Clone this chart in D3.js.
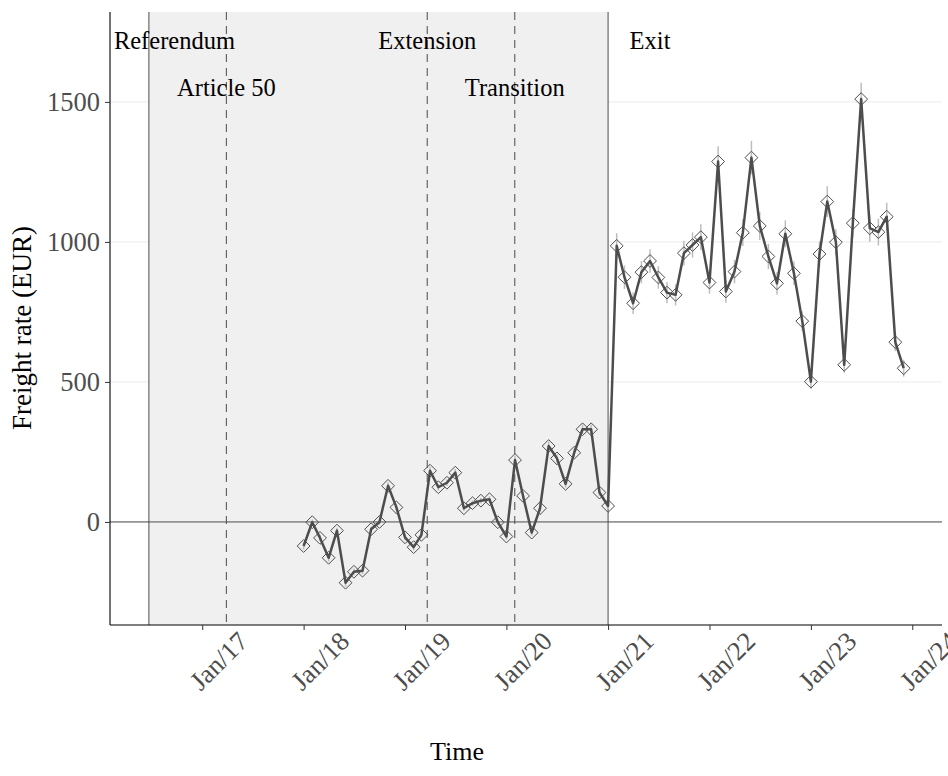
<!DOCTYPE html>
<html>
<head>
<meta charset="utf-8">
<script src="https://cdn.jsdelivr.net/npm/d3@7"></script>
<style>
  html, body { margin: 0; padding: 0; background: #ffffff; }
  svg { display: block; }
</style>
</head>
<body>
<svg id="chart" width="948" height="776"></svg>
<script>
// Monthly freight rates, Jan 2018 – Dec 2023 (EUR)
const startMonth = [2018, 0];
const rates = [
  -86, -1, -57, -128, -31, -217, -178, -174, -26, 0, 129, 52,
  -55, -90, -46, 183, 124, 140, 176, 49, 67, 76, 81, -1,
  -52, 221, 93, -38, 49, 271, 227, 136, 247, 331, 331, 105,
  57, 986, 874, 781, 892, 932, 873, 819, 811, 960, 989, 1017,
  855, 1287, 823, 894, 1033, 1301, 1057, 948, 852, 1029, 888, 717,
  501, 957, 1144, 999, 561, 1067, 1510, 1049, 1035, 1090, 642, 549
];
// Half-width of the uncertainty band around each monthly rate
const rateErrors = [
  12, 10, 11, 13, 10, 14, 12, 12, 10, 10, 13, 11,
  10, 12, 11, 14, 12, 12, 13, 10, 10, 10, 11, 10,
  11, 15, 12, 11, 11, 16, 15, 13, 15, 17, 17, 12,
  11, 45, 42, 38, 40, 42, 40, 38, 38, 44, 45, 46,
  40, 55, 40, 42, 48, 60, 50, 45, 40, 48, 42, 35,
  25, 45, 55, 46, 28, 50, 58, 48, 48, 50, 32, 30
];

// Brexit milestones
const eventNames = ["Referendum", "Article 50", "Extension", "Transition", "Exit"];
const eventDates = ["2016-06-23", "2017-03-29", "2019-03-22", "2020-01-31", "2021-01-01"];
const eventDashed = [false, true, true, true, false];
const labelDates = ["2016-09-23", "2017-03-29", "2019-03-22", "2020-01-31", "2021-06-01"];
const labelValues = [1720, 1550, 1720, 1550, 1720];

const yTicks = [0, 500, 1000, 1500];
const xTickYears = [2017, 2018, 2019, 2020, 2021, 2022, 2023, 2024];

const parse = d3.timeParse("%Y-%m-%d");
const data = rates.map((v, i) => ({
  date: new Date(startMonth[0], startMonth[1] + i, 1),
  value: v,
  err: rateErrors[i]
}));
const events = eventNames.map((n, i) => ({
  name: n,
  date: parse(eventDates[i]),
  dashed: eventDashed[i],
  labelDate: parse(labelDates[i]),
  labelValue: labelValues[i]
}));

const svg = d3.select("#chart");
const panel = { left: 110, right: 942, top: 12, bottom: 625 };

const x = d3.scaleTime()
  .domain([new Date(2016, 1, 4), new Date(2024, 3, 17)])
  .range([panel.left, panel.right]);
const y = d3.scaleLinear()
  .domain([-368, 1821])
  .range([panel.bottom, panel.top]);

const serif = "'Liberation Serif', 'Times New Roman', serif";

// Horizontal grid
svg.append("g").selectAll("line")
  .data(yTicks)
  .join("line")
  .attr("x1", panel.left).attr("x2", panel.right)
  .attr("y1", d => y(d)).attr("y2", d => y(d))
  .attr("stroke", "#ebebeb").attr("stroke-width", 1);

// Shaded period between referendum and exit
const ref = events[0], exit = events[4];
svg.append("rect")
  .attr("x", x(ref.date))
  .attr("y", panel.top)
  .attr("width", x(exit.date) - x(ref.date))
  .attr("height", panel.bottom - panel.top)
  .attr("fill", "#f0f0f0");

// Milestone lines
svg.append("g").selectAll("line")
  .data(events)
  .join("line")
  .attr("x1", d => x(d.date)).attr("x2", d => x(d.date))
  .attr("y1", panel.top).attr("y2", panel.bottom)
  .attr("stroke", d => d.dashed ? "#5a5a5a" : "#4d4d4d")
  .attr("stroke-width", d => d.dashed ? 1.1 : 1)
  .attr("stroke-dasharray", d => d.dashed ? "8,6" : null);

// Zero reference line
svg.append("line")
  .attr("x1", panel.left).attr("x2", panel.right)
  .attr("y1", y(0)).attr("y2", y(0))
  .attr("stroke", "#4d4d4d").attr("stroke-width", 1);

// Error bars
svg.append("g").selectAll("line")
  .data(data)
  .join("line")
  .attr("x1", d => x(d.date)).attr("x2", d => x(d.date))
  .attr("y1", d => y(d.value - d.err)).attr("y2", d => y(d.value + d.err))
  .attr("stroke", "#bdbdbd").attr("stroke-width", 1.5);

// Rate line
svg.append("path")
  .datum(data)
  .attr("fill", "none")
  .attr("stroke", "#4d4d4d")
  .attr("stroke-width", 2.5)
  .attr("stroke-linejoin", "round")
  .attr("d", d3.line().x(d => x(d.date)).y(d => y(d.value)));

// Open diamond markers
const dr = 6.4;
svg.append("g").selectAll("path")
  .data(data)
  .join("path")
  .attr("transform", d => `translate(${x(d.date)},${y(d.value)})`)
  .attr("d", `M0,${-dr}L${dr},0L0,${dr}L${-dr},0Z`)
  .attr("fill", "none")
  .attr("stroke", "#4d4d4d")
  .attr("stroke-width", 1);

// Milestone labels
svg.append("g").selectAll("text")
  .data(events)
  .join("text")
  .attr("x", d => x(d.labelDate))
  .attr("y", d => y(d.labelValue))
  .attr("text-anchor", "middle")
  .attr("dominant-baseline", "central")
  .attr("font-family", serif)
  .attr("font-size", 24.5)
  .attr("fill", "#000")
  .text(d => d.name);

// Y axis
const yAxis = svg.append("g")
  .attr("transform", `translate(${panel.left},0)`)
  .call(d3.axisLeft(y).tickValues(yTicks).tickSize(5).tickPadding(5).tickFormat(d3.format("d")));
yAxis.select(".domain").attr("d", `M0,${panel.top}V${panel.bottom}`).attr("stroke", "#000").attr("stroke-width", 1.1);
yAxis.selectAll(".tick line").attr("stroke", "#333");
yAxis.selectAll(".tick text")
  .attr("font-family", serif).attr("font-size", 26.5).attr("fill", "#4d4d4d");

// X axis
const xAxis = svg.append("g")
  .attr("transform", `translate(0,${panel.bottom})`)
  .call(d3.axisBottom(x)
    .tickValues(xTickYears.map(yr => new Date(yr, 0, 1)))
    .tickSize(5)
    .tickFormat(d3.timeFormat("Jan/%y")));
xAxis.select(".domain").attr("d", `M${panel.left},0H${panel.right}`).attr("stroke", "#000").attr("stroke-width", 1.1);
xAxis.selectAll(".tick line").attr("stroke", "#333");
xAxis.selectAll(".tick text")
  .attr("y", 0).attr("dy", null)
  .attr("transform", "translate(16,36) rotate(-45)")
  .attr("text-anchor", "middle")
  .attr("dominant-baseline", "central")
  .attr("font-family", serif).attr("font-size", 26.5).attr("fill", "#4d4d4d");

// Axis titles
svg.append("text")
  .attr("x", 457).attr("y", 760)
  .attr("text-anchor", "middle")
  .attr("font-family", serif).attr("font-size", 26).attr("fill", "#000")
  .text("Time");
svg.append("text")
  .attr("transform", "translate(31,328) rotate(-90)")
  .attr("text-anchor", "middle")
  .attr("font-family", serif).attr("font-size", 27).attr("fill", "#000")
  .text("Freight rate (EUR)");
</script>
</body>
</html>
